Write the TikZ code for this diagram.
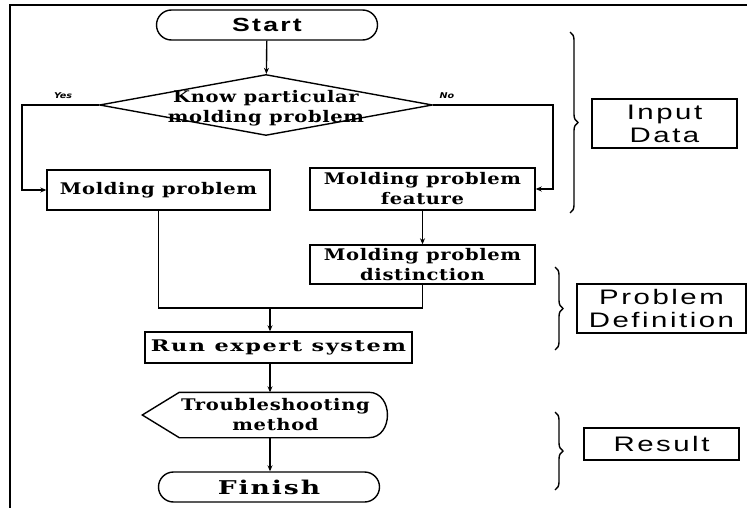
\documentclass[tikz,border=0pt]{standalone}
\usepackage{fontspec}
\usepackage{tikz}
\usetikzlibrary{positioning,arrows,arrows.meta,shapes,decorations.pathreplacing}
\newfontfamily\chartfont[FakeStretch=1.22,LetterSpace=4]{DejaVu Serif}
\newfontfamily\wideserif[FakeStretch=1.4,LetterSpace=10]{DejaVu Serif}
\newfontfamily\tagfont[FakeStretch=1.4,LetterSpace=12]{Liberation Sans}
\newfontfamily\answerfont[FakeStretch=1.2]{DejaVu Sans}

\begin{document}
\begin{tikzpicture}[x=1pt,y=-1pt,line width=1.4pt,>={Stealth[length=6pt,width=5pt]}]
	\useasboundingbox (0,0) rectangle (747,508);
	\tikzstyle{terminal}=[draw,rounded rectangle,minimum width=221pt,minimum height=30pt,inner sep=0pt]
	\tikzstyle{stepbox}=[draw,rectangle,align=center,inner sep=0pt,font=\chartfont\bfseries\fontsize{16}{20}\selectfont]
	\tikzstyle{tagbox}=[draw,rectangle,align=center,line width=1.8pt,inner sep=0pt,font=\tagfont\fontsize{21}{23}\selectfont]
	\tikzstyle{answer}=[font=\answerfont\bfseries\itshape\fontsize{8}{9}\selectfont]
	\tikzstyle{phase}=[decorate,decoration={brace,amplitude=8pt}]

	%% Frame
	\draw (10,508) -- (10,5) -- (747,5);

	%% Flow chart
	\node[terminal,font=\tagfont\bfseries\fontsize{19}{20}\selectfont] (start) at (267,25) {Start};
	\node[draw,diamond,minimum width=333pt,minimum height=61pt,inner sep=0pt,
	      label={[align=center,font=\chartfont\bfseries\fontsize{16}{20}\selectfont,yshift=-3pt]center:Know particular\\molding problem}] (know) at (266,105) {};
	\node[answer] (yeslbl) at (63,96) {Yes};
	\node[answer] (nolbl) at (447,96) {No};
	\node[stepbox,minimum width=223pt,minimum height=40pt] (prob) at (158.5,190) {Molding problem};
	\node[stepbox,minimum width=225pt,minimum height=42pt] (feat) at (422.5,189) {Molding problem\\feature};
	\node[stepbox,minimum width=225pt,minimum height=39pt] (dist) at (422.5,264.5) {Molding problem\\distinction};
	\node[stepbox,font=\wideserif\bfseries\fontsize{16}{20}\selectfont,minimum width=267pt,minimum height=31pt] (run) at (278.5,347.5) {Run expert system};
	\node[stepbox,draw=none,minimum width=225pt,minimum height=44pt] (trouble) at (275.5,415) {Troubleshooting\\method};
	\draw ([xshift=-20pt]trouble.west) -- ([xshift=17pt]trouble.north west) -- ([xshift=-20pt]trouble.north east)
	      .. controls ([xshift=5pt]trouble.north east) and ([xshift=5pt]trouble.south east) .. ([xshift=-20pt]trouble.south east)
	      -- ([xshift=17pt]trouble.south west) -- cycle;
	\node[terminal,font=\wideserif\bfseries\fontsize{19}{20}\selectfont] (finish) at (269,487) {Finish};

	\coordinate (yes) at (22,105);
	\coordinate (no) at (553,105);
	\coordinate (merge) at (270,308);

	\draw[->] (start) -- (know);
	\draw[->] (know.west) -- (yes) |- (prob.west);
	\draw[->] (know.east) -- (no) |- (feat.east);
	\draw[->] (feat) -- (dist);
	\draw (prob.south) |- (dist.south |- merge) -- (dist.south);
	\draw[->] (merge) -- (merge |- run.north);
	\draw[->] (merge |- run.south) -- (merge |- trouble.north);
	\draw[->] (merge |- trouble.south) -- (merge |- finish.north);

	%% Phases
	\draw[phase] (570,32) -- (570,213);
	\draw[phase] (555,267) -- (555,350);
	\draw[phase] (555,412) -- (555,490);
	\node[tagbox,minimum width=145pt,minimum height=49pt] (input) at (664.5,123.5) {Input\\Data};
	\node[tagbox,minimum width=169pt,minimum height=49pt] (define) at (661.5,308.5) {Problem\\Definition};
	\node[tagbox,minimum width=155pt,minimum height=32pt] (result) at (661.5,444) {Result};
\end{tikzpicture}
\end{document}
